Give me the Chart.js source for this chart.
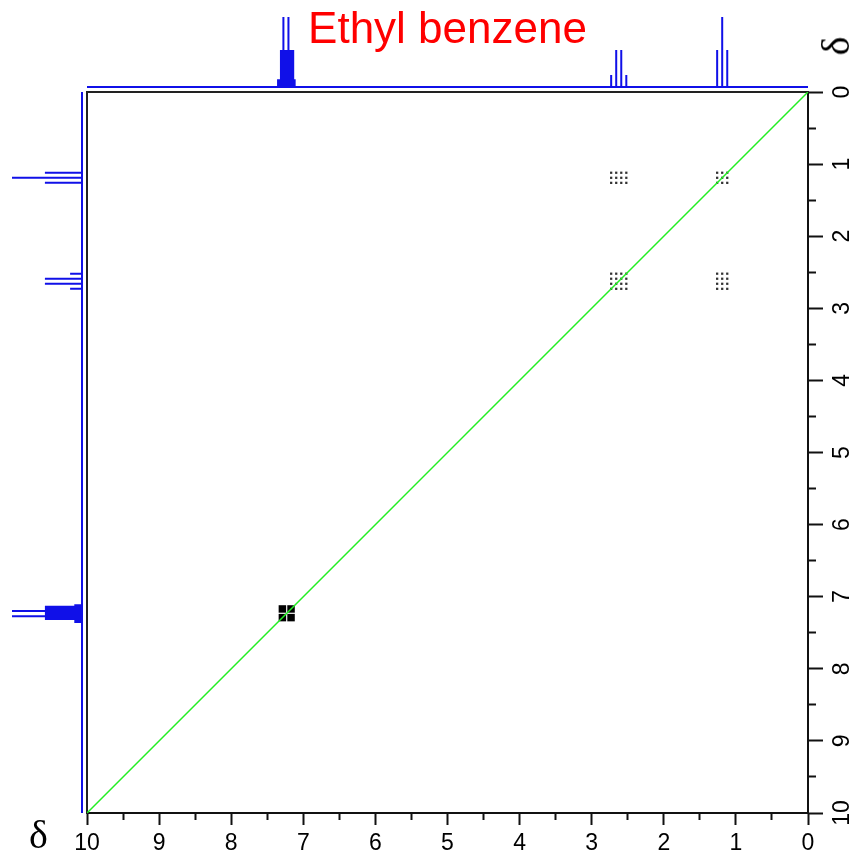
<!DOCTYPE html>
<html>
<head>
<meta charset="utf-8">
<script src="https://cdn.jsdelivr.net/npm/chart.js@4.4.1/dist/chart.umd.min.js"></script>
<style>
  html, body { margin: 0; padding: 0; background: #fff; }
  #wrap { position: relative; width: 856px; height: 854px; }
  .delta { position: absolute; font-family: 'Liberation Serif', 'DejaVu Serif', serif; font-size: 40px; line-height: 40px; color: #000; }
  #dBottom { left: 29px; top: 815px; }
  #dRight { left: 836px; top: 46px; transform: translate(-50%, -50%) rotate(-90deg); }
</style>
</head>
<body>
<div id="wrap">
  <canvas id="cosy" width="856" height="854"></canvas>
  <div class="delta" id="dBottom">δ</div>
  <div class="delta" id="dRight">δ</div>
</div>
<script>
// axis ticks (ppm)
const majorTicks = [0, 1, 2, 3, 4, 5, 6, 7, 8, 9, 10];
const minorTicks = [0.5, 1.5, 2.5, 3.5, 4.5, 5.5, 6.5, 7.5, 8.5, 9.5];

// 1H spectrum lines: ppm and relative height
const ch3Ppm = [1.26, 1.19, 1.12];
const ch3Height = [0.53, 1.0, 0.53];
const ch2Ppm = [2.73, 2.66, 2.59, 2.52];
const ch2Height = [0.17, 0.53, 0.53, 0.17];
const arPpm = [7.35, 7.33, 7.31, 7.295, 7.28, 7.27, 7.255, 7.24, 7.225, 7.21, 7.20, 7.185, 7.17, 7.155, 7.14, 7.12];
const arHeight = [0.11, 0.11, 0.53, 0.53, 0.53, 1.0, 0.53, 0.53, 0.53, 0.53, 1.0, 0.53, 0.53, 0.53, 0.53, 0.11];

// COSY peaks: [x multiplet, y multiplet]
const crossPeaks = [[ch2Ppm, ch3Ppm], [ch3Ppm, ch3Ppm], [ch2Ppm, ch2Ppm], [ch3Ppm, ch2Ppm]];
const arCross = [7.29, 7.17];
const diagonal = [0, 10];

// the 1D traces sit outside the plot box, on hidden scales
const plotPx = 721, stickPx = 70, baseGap = 5;
const specMin = -(plotPx + baseGap) / stickPx;
const specMax = specMin + plotPx / stickPx;

var FONT = "'Liberation Sans', Arial, sans-serif";

function stickTrace(swap) {
  var lines = [];
  ch3Ppm.forEach(function(p, i) { lines.push([p, ch3Height[i]]); });
  ch2Ppm.forEach(function(p, i) { lines.push([p, ch2Height[i]]); });
  arPpm.forEach(function(p, i) { lines.push([p, arHeight[i]]); });
  lines.sort(function(a, b) { return a[0] - b[0]; });
  var pts = [[0, 0]];
  lines.forEach(function(l) {
    pts.push([l[0], 0], [l[0], l[1]], [l[0], 0]);
  });
  pts.push([10, 0]);
  return pts.map(function(p) {
    return swap ? {x: p[1], y: p[0]} : {x: p[0], y: p[1]};
  });
}

var dots = [];
crossPeaks.forEach(function(cp) {
  cp[0].forEach(function(px) {
    cp[1].forEach(function(py) { dots.push({x: px, y: py}); });
  });
});
var arDots = [];
arCross.forEach(function(px) {
  arCross.forEach(function(py) { arDots.push({x: px, y: py}); });
});

function setTicks(scale) {
  scale.ticks = majorTicks.concat(minorTicks)
    .sort(function(a, b) { return a - b; })
    .map(function(v) { return {value: v}; });
}
function tickLabel(v) {
  return majorTicks.indexOf(v) >= 0 ? String(v) : '';
}
function minorDash(len) {
  return function(c) {
    return (c.tick && minorTicks.indexOf(c.tick.value) >= 0) ? [len, 60] : [];
  };
}

var blue = '#1010e8';

new Chart(document.getElementById('cosy').getContext('2d'), {
  type: 'line',
  data: {
    datasets: [
      {
        data: diagonal.map(function(v) { return {x: v, y: v}; }),
        borderColor: '#22ee22', borderWidth: 1.5, pointRadius: 0,
        xAxisID: 'x', yAxisID: 'y'
      },
      {
        data: arDots, showLine: false, pointStyle: 'rect', pointRadius: 5.3,
        pointBackgroundColor: '#000', pointBorderWidth: 0,
        xAxisID: 'x', yAxisID: 'y'
      },
      {
        data: dots, showLine: false, pointStyle: 'rect', pointRadius: 1.6,
        pointBackgroundColor: '#333', pointBorderWidth: 0,
        xAxisID: 'x', yAxisID: 'y'
      },
      {
        data: stickTrace(false), borderColor: blue, borderWidth: 2,
        pointRadius: 0, clip: false, borderJoinStyle: 'bevel',
        xAxisID: 'x', yAxisID: 'yTop'
      },
      {
        data: stickTrace(true), borderColor: blue, borderWidth: 2,
        pointRadius: 0, clip: false, borderJoinStyle: 'bevel',
        xAxisID: 'xLeft', yAxisID: 'y'
      }
    ]
  },
  options: {
    responsive: false,
    animation: false,
    events: [],
    layout: { padding: { left: 87, top: 0, right: 0, bottom: 0 } },
    plugins: {
      legend: { display: false },
      tooltip: { enabled: false },
      title: {
        display: true, text: 'Ethyl benzene', color: '#ff0000', fullSize: false,
        font: { family: FONT, size: 44, weight: 'normal' },
        padding: { top: 4.5, bottom: 34.7 }
      }
    },
    scales: {
      x: {
        type: 'linear', position: 'bottom', reverse: true, min: 0, max: 10,
        afterBuildTicks: setTicks,
        afterFit: function(s) { s.height = 41; },
        ticks: { callback: tickLabel, autoSkip: false, maxRotation: 0, padding: 5, color: '#000',
                 font: { family: FONT, size: 23 } },
        grid: { drawOnChartArea: false, tickLength: 12, tickWidth: 2, tickColor: '#111',
                tickBorderDash: minorDash(6) },
        border: { color: '#111', width: 2 }
      },
      y: {
        type: 'linear', position: 'right', reverse: true, min: 0, max: 10,
        afterBuildTicks: setTicks,
        afterFit: function(s) { s.width = 48; },
        ticks: { callback: tickLabel, autoSkip: false, minRotation: 90, maxRotation: 90,
                 crossAlign: 'center', padding: 7, color: '#000',
                 font: { family: FONT, size: 23 } },
        grid: { drawOnChartArea: false, tickLength: 15, tickWidth: 2, tickColor: '#111',
                tickBorderDash: minorDash(7) },
        border: { color: '#111', width: 2 }
      },
      xTop: {
        type: 'linear', position: 'top', reverse: true, min: 0, max: 10,
        afterFit: function(s) { s.height = 0; },
        ticks: { display: false },
        grid: { display: false, drawTicks: false },
        border: { color: '#222', width: 2 }
      },
      yLeft: {
        type: 'linear', position: 'left', reverse: true, min: 0, max: 10,
        afterFit: function(s) { s.width = 0; },
        ticks: { display: false },
        grid: { display: false, drawTicks: false },
        border: { color: '#222', width: 2 }
      },
      yTop: { type: 'linear', display: false, min: specMin, max: specMax },
      xLeft: { type: 'linear', display: false, reverse: true, min: specMin, max: specMax }
    }
  }
});
</script>
</body>
</html>
